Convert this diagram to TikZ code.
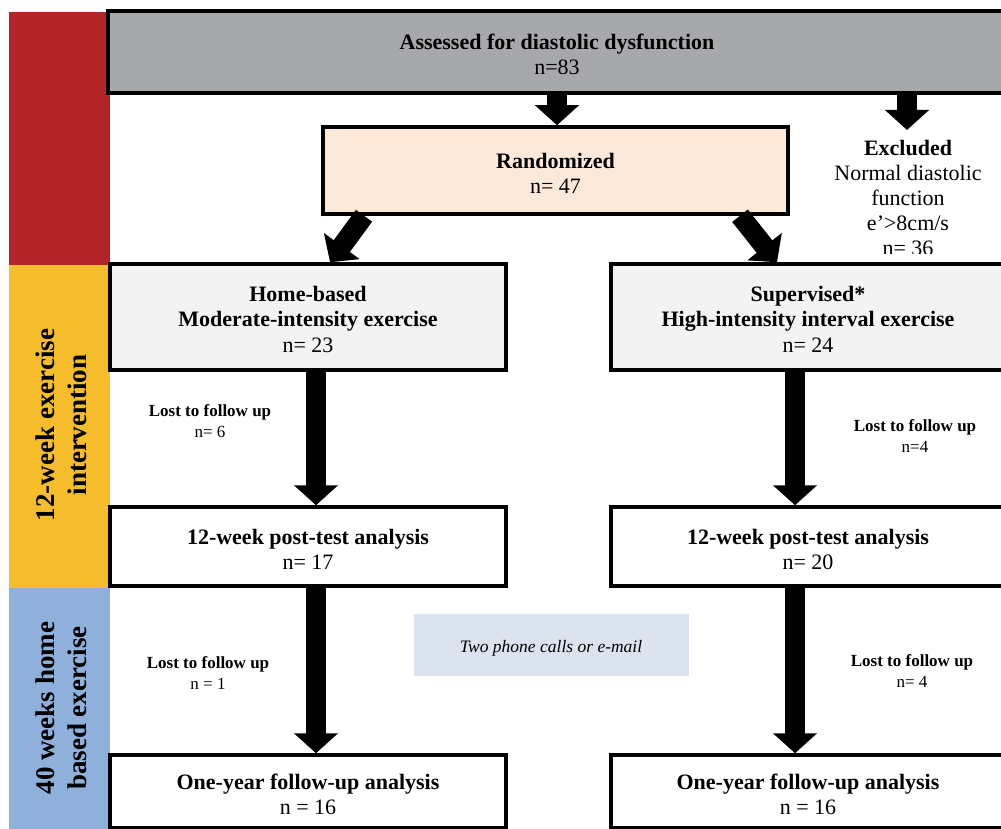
\documentclass[tikz,border=0pt]{standalone}
\usepackage{fontspec}
\setmainfont{Liberation Serif}
\usetikzlibrary{arrows.meta,calc}
\definecolor{sbred}{HTML}{B32428}
\definecolor{sbyellow}{HTML}{F5BC2B}
\definecolor{sbblue}{HTML}{8EB0DB}
\definecolor{topgray}{HTML}{A7A8AB}
\definecolor{peach}{HTML}{FCE9DA}
\definecolor{lgray}{HTML}{F2F3F2}
\definecolor{phonebg}{HTML}{DBE4EE}
\begin{document}
\begin{tikzpicture}[x=1pt,y=-1pt,
  box/.style={draw=black,line width=3.5pt,rectangle,inner sep=0pt},
  boxtext/.style={align=center,inner sep=0pt,font=\fontsize{22}{25.5}\selectfont},
  fat/.style={line width=20pt,-{Triangle[width=43pt,length=20pt]}},
  lost/.style={align=center,font=\fontsize{17}{21}\selectfont},
  side/.style={rotate=90,align=center,font=\fontsize{27}{32}\selectfont\bfseries}]
\useasboundingbox (0,0) rectangle (1001,829);
\clip (0,0) rectangle (1001,829);
% sidebar
\fill[sbred] (9,12) rectangle (110,265);
\fill[sbyellow] (9,265) rectangle (110,588);
\fill[sbblue] (9,588) rectangle (110,835);
\node[side] (sideA) at (61,425) {12-week exercise\\intervention};
\node[side] (sideB) at (61,708) {40 weeks home\\based exercise};
% boxes
\node[box,fill=topgray,minimum width=898pt,minimum height=82pt] (top) at (557,52) {};
\node[boxtext] (topT) at ([yshift=-2.5pt]top.center) {\textbf{Assessed for diastolic dysfunction}\\n=83};
\node[box,fill=peach,minimum width=465pt,minimum height=87pt] (rand) at (555.5,170.5) {};
\node[boxtext] (randT) at ([yshift=-3pt]rand.center) {\textbf{Randomized}\\n= 47};
\node[box,fill=lgray,minimum width=396pt,minimum height=106pt] (home) at (308,317) {};
\node[boxtext] (homeT) at ([yshift=-2pt]home.center) {\textbf{Home-based}\\\textbf{Moderate-intensity exercise}\\n= 23};
\node[box,fill=lgray,minimum width=394pt,minimum height=106pt] (sup) at (808,317) {};
\node[boxtext] (supT) at ([yshift=-2pt]sup.center) {\textbf{Supervised*}\\\textbf{High-intensity interval exercise}\\n= 24};
\node[box,fill=white,minimum width=396pt,minimum height=79pt] (postL) at (308,546.5) {};
\node[boxtext] (postLT) at ([yshift=-3pt]postL.center) {\textbf{12-week post-test analysis}\\n= 17};
\node[box,fill=white,minimum width=394pt,minimum height=79pt] (postR) at (808,546.5) {};
\node[boxtext] (postRT) at ([yshift=-3pt]postR.center) {\textbf{12-week post-test analysis}\\n= 20};
\node[box,fill=white,minimum width=396pt,minimum height=73pt] (oneL) at (308,791.5) {};
\node[boxtext] (oneLT) at ([yshift=-3pt]oneL.center) {\textbf{One-year follow-up analysis}\\n = 16};
\node[box,fill=white,minimum width=394pt,minimum height=73pt] (oneR) at (808,791.5) {};
\node[boxtext] (oneRT) at ([yshift=-3pt]oneR.center) {\textbf{One-year follow-up analysis}\\n = 16};
\node[fill=phonebg,minimum width=275pt,minimum height=62pt,inner sep=0pt] (phone) at (551,644.5) {};
\node[inner sep=0pt,font=\fontsize{17.5}{21}\selectfont\itshape] (phoneT) at ([yshift=-3.5pt]phone.center) {Two phone calls or e-mail};
% excluded
\begin{scope}
\clip (800,100) rectangle (1001,253);
\node[align=center,font=\fontsize{22}{25}\selectfont] (excl) at (908,198) {\textbf{Excluded}\\Normal diastolic\\function\\e’>8cm/s\\n= 36};
\end{scope}
\coordinate (exTip) at (907,130);
% arrows
\draw[fat] ([xshift=1.5pt]rand.north |- top.south) -- ([xshift=1.5pt]rand.north);
\draw[fat] (exTip |- top.south) -- (exTip);
\draw[fat] ([xshift=-191.5pt]rand.south) -- ([xshift=22pt]home.north);
\draw[fat] ([xshift=184.5pt]rand.south) -- ([xshift=-31pt]sup.north);
\draw[fat] ([xshift=8pt]home.south) -- ([xshift=8pt]postL.north);
\draw[fat] ([xshift=-13pt]sup.south) -- ([xshift=-13pt]postR.north);
\draw[fat] ([xshift=8pt]postL.south) -- ([xshift=8pt]oneL.north);
\draw[fat] ([xshift=-13pt]postR.south) -- ([xshift=-13pt]oneR.north);
% labels
\node[lost] (lostA) at (210,421.5) {\textbf{Lost to follow up}\\n= 6};
\node[lost] (lostB) at (915,436) {\textbf{Lost to follow up}\\n=4};
\node[lost] (lostC) at (208,673) {\textbf{Lost to follow up}\\n = 1};
\node[lost] (lostD) at (912,671) {\textbf{Lost to follow up}\\n= 4};
\end{tikzpicture}
\end{document}
